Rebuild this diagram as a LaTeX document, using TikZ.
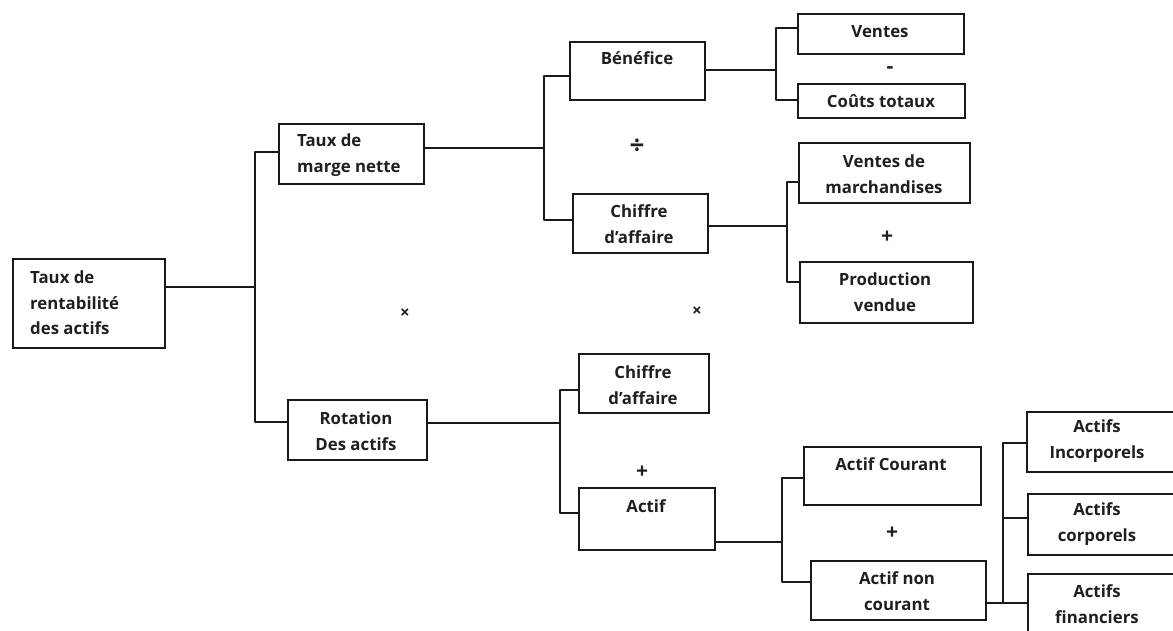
\documentclass[tikz,border=0pt]{standalone}
\usepackage{fontspec}
\setmainfont{Open Sans}
\begin{document}
\begin{tikzpicture}[x=1pt,y=-1pt,
  box/.style={draw=black!90, line width=1.6pt, inner sep=0pt, anchor=north west},
  txt/.style={font=\fontsize{16.8}{25.5}\selectfont\bfseries, text=black!88, inner sep=0pt, align=center},
  txtl/.style={txt, align=left, anchor=west},
  op/.style={font=\fontsize{21}{21}\selectfont\bfseries, text=black!88, inner sep=0pt},
  times/.style={op, font=\fontsize{17}{17}\selectfont\bfseries},
  link/.style={draw=black!90, line width=1.6pt, line cap=round, line join=round}]
\useasboundingbox (0,0) rectangle (1173,631);
\clip (0,0) rectangle (1173,631);

% boxes: name, corner, size
\node[box, minimum width=152pt, minimum height=89pt] (root) at (12,258) {};
\node[box, minimum width=145pt, minimum height=60pt] (tmn) at (278,123) {};
\node[box, minimum width=139pt, minimum height=60pt] (rot) at (287,399) {};
\node[box, minimum width=135pt, minimum height=58pt] (ben) at (569,41) {};
\node[box, minimum width=135pt, minimum height=59pt] (ca1) at (572,193) {};
\node[box, minimum width=166pt, minimum height=40pt] (ven) at (797,13) {};
\node[box, minimum width=167pt, minimum height=34pt] (cou) at (797,83) {};
\node[box, minimum width=171pt, minimum height=60pt] (vdm) at (798,142) {};
\node[box, minimum width=173pt, minimum height=61pt] (pv) at (799,261) {};
\node[box, minimum width=130pt, minimum height=59pt] (ca2) at (578,353) {};
\node[box, minimum width=136pt, minimum height=62pt] (act) at (578,487) {};
\node[box, minimum width=177pt, minimum height=58pt] (ac) at (803,446) {};
\node[box, minimum width=175pt, minimum height=59pt] (anc) at (810,560) {};
\node[box, minimum width=150pt, minimum height=60pt] (ai) at (1026,411) {};
\node[box, minimum width=150pt, minimum height=61pt] (acp) at (1027,493) {};
\node[box, minimum width=150pt, minimum height=70pt] (af) at (1027,573) {};

% texts
\node[txtl] (root-t) at (30,303) {Taux de\\rentabilité\\des actifs};
\node[txtl] (tmn-t) at (297,155) {Taux de\\marge nette};
\node[txt] (rot-t) at (356,431) {Rotation\\Des actifs};
\node[txt] (ben-t) at (637,58) {Bénéfice};
\node[txt] (ca1-t) at (639,224) {Chiffre\\d’affaire};
\node[txt] (ven-t) at (880,32) {Ventes};
\node[txt] (cou-t) at (881,101) {Coûts totaux};
\node[txt] (vdm-t) at (884,174) {Ventes de\\marchandises};
\node[txt] (pv-t) at (885,292) {Production\\vendue};
\node[txt] (ca2-t) at (643,385) {Chiffre\\d’affaire};
\node[txt] (act-t) at (646,506) {Actif};
\node[txt] (ac-t) at (891,464) {Actif Courant};
\node[txt] (anc-t) at (897,591) {Actif non\\courant};
\node[txt] (ai-t) at (1097,441) {Actifs\\Incorporels};
\node[txt] (acp-t) at (1097,524) {Actifs\\corporels};
\node[txt] (af-t) at (1097,604) {Actifs\\financiers};

% operators
\node[times] (x1) at (405,314) {×};
\node[times] (x2) at (697,312) {×};
\node[op, font=\fontsize{26}{26}\selectfont\bfseries] (d1) at (637,147) {÷};
\node[op] (m1) at (890,70) {-};
\node[op] (p1) at (887,237) {+};
\node[op] (p2) at (642,472) {+};
\node[op] (p3) at (892,533) {+};

% bus points
\coordinate (b1) at (255,287);
\coordinate (b2) at (544,148);
\coordinate (b3) at (776,70);
\coordinate (b4) at (787,226);
\coordinate (b5) at (560,423);
\coordinate (b6) at (782,542);
\coordinate (b7) at (1003,603);

% connectors
\draw[link] (root.east |- b1) -- (b1);
\draw[link] (tmn.west |- 0,152) -| (b1) |- (rot.west |- 0,422);
\draw[link] (tmn.east |- b2) -- (b2);
\draw[link] (ben.west |- 0,76) -| (b2) |- (ca1.west |- 0,220);
\draw[link] (ben.east |- b3) -- (b3);
\draw[link] (ven.west |- 0,28) -| (b3) |- (cou.west |- 0,100);
\draw[link] (ca1.east |- b4) -- (b4);
\draw[link] (vdm.west |- 0,182) -| (b4) |- (pv.west |- 0,282);
\draw[link] (rot.east |- b5) -- (b5);
\draw[link] (ca2.west |- 0,390) -| (b5) |- (act.west |- 0,513);
\draw[link] (act.east |- b6) -- (b6);
\draw[link] (ac.west |- 0,478) -| (b6) |- (anc.west |- 0,582);
\draw[link] (anc.east |- b7) -- (af.west |- b7);
\draw[link] (ai.west |- 0,443) -| (b7);
\draw[link] (b7 |- 0,518) -- (acp.west |- 0,518);
\end{tikzpicture}
\end{document}
